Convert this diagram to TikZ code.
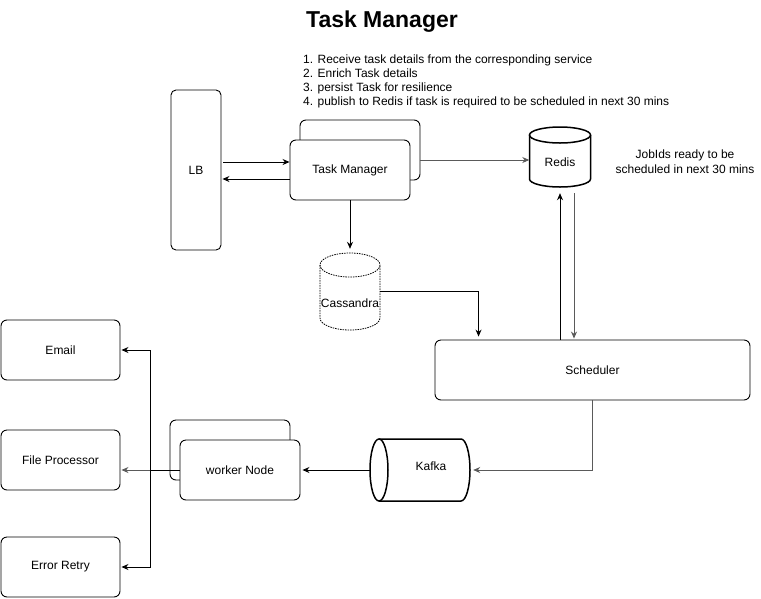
\documentclass[tikz,border=0pt]{standalone}
\usepackage{fontspec}
\setmainfont{Liberation Sans}
\usetikzlibrary{arrows.meta,calc}
\definecolor{lgray}{HTML}{5A5A5A}
\begin{document}
\begin{tikzpicture}[x=1pt,y=-1pt,
  txt/.style={font=\fontsize{12}{14}\selectfont, inner sep=0pt},
  box/.style={draw, line width=0.9pt, rounded corners=6pt, fill=white, font=\fontsize{12}{14}\selectfont, inner sep=0pt},
  ghost/.style={inner sep=0pt, font=\fontsize{12}{14}\selectfont},
  arr/.style={line width=0.9pt, -{Stealth[length=7pt,width=6pt]}},
  ln/.style={line width=0.9pt}
]
\useasboundingbox (0,0) rectangle (761,598);

% title and notes
\node[font=\fontsize{23}{27}\selectfont\bfseries, inner sep=0pt] (title) at (382,22) {Task Manager};
\node[txt, anchor=west, align=left] (notes) at (303,81) {1. Receive task details from the corresponding service\\2. Enrich Task details\\3. persist Task for resilience\\4. publish to Redis if task is required to be scheduled in next 30 mins};
\node[txt, align=center] (jobs) at (685,161.5) {JobIds ready to be\\[1pt]scheduled in next 30 mins};

% LB
\node[box, rounded corners=5pt, minimum width=50pt, minimum height=160pt] (lb) at (196,170) {LB};

% Task manager stack
\node[box, minimum width=120pt, minimum height=60pt] (tmb) at (360,150) {};
\node[box, minimum width=120pt, minimum height=60pt] (tm) at (350,170) {Task Manager};

% Redis cylinder
\node[ghost, minimum width=61pt, minimum height=66pt] (redis) at (560,160) {};
\draw[line width=1.5pt] (529.5,135) -- (529.5,179) arc[start angle=180, end angle=0, x radius=30.5, y radius=8] -- (590.5,135);
\draw[line width=1.5pt] (560,135) ellipse[x radius=30.5, y radius=8];
\node[txt] at (560,162) {Redis};

% Cassandra cylinder (dashed)
\node[ghost, minimum width=60pt, minimum height=77pt] (cass) at (350,291.5) {};
\draw[line width=0.8pt, dash pattern=on 1.5pt off 1pt] (320,265) -- (320,318) arc[start angle=180, end angle=0, x radius=30, y radius=12] -- (380,265);
\draw[line width=0.8pt, dash pattern=on 1.5pt off 1pt] (350,265) ellipse[x radius=30, y radius=12];
\node[txt] at (350,303) {Cassandra};

% Scheduler
\node[box, minimum width=315pt, minimum height=60pt] (sched) at (592.5,370) {Scheduler};

% Kafka cylinder (horizontal)
\node[ghost, minimum width=100pt, minimum height=62pt] (kafka) at (420,470) {};
\draw[line width=1.5pt] (379,439) -- (461,439) arc[start angle=-90, end angle=90, x radius=9, y radius=31] -- (379,501);
\draw[line width=1.5pt] (379,470) ellipse[x radius=9, y radius=31];
\node[txt] at (431,466) {Kafka};

% worker stack
\node[box, minimum width=120pt, minimum height=60pt] (wnb) at (230,450) {};
\node[box, minimum width=120pt, minimum height=60pt] (wn) at (240,470) {worker Node};

% targets
\node[box, minimum width=119pt, minimum height=60pt] (email) at (60.5,350) {Email};
\node[box, minimum width=119pt, minimum height=60pt] (fp) at (60.5,460) {File Processor};
\node[box, minimum width=119pt, minimum height=60pt] (err) at (60.5,567) {Error Retry};

% connectors
\draw[arr] ([xshift=2pt,yshift=8pt]lb.east) -- ([yshift=8pt]tm.west);
\draw[arr] ([yshift=-9pt]tm.west) -- ([xshift=1pt,yshift=-9pt]lb.east);
\draw[arr] (tm.south) -- ([yshift=4pt]cass.north);
\draw[arr, lgray] (redis.west -| tmb.east) -- (redis.west);
\draw[arr] (cass.east) -| ([yshift=3pt]$(sched.north west)+(44,0)$);
\draw[arr] (sched.north -| redis.south) -- (redis.south);
\draw[arr, lgray] ([xshift=14pt]redis.south) -- ([xshift=14pt,yshift=1pt]redis.south |- sched.north);
\draw[arr, lgray] (sched.south) |- ([xshift=3pt]kafka.east);
\draw[arr] (kafka.west) -- ([xshift=2pt]wn.east);
\coordinate (jn) at (150,470);
\draw[ln] (wn.west) -- (jn);
\draw[arr] (jn) |- ([xshift=1pt]email.east);
\draw[arr] (jn) |- ([xshift=1pt]err.east);
\draw[arr, lgray] (jn) -- ([xshift=1pt]fp.east |- jn);
\end{tikzpicture}
\end{document}
